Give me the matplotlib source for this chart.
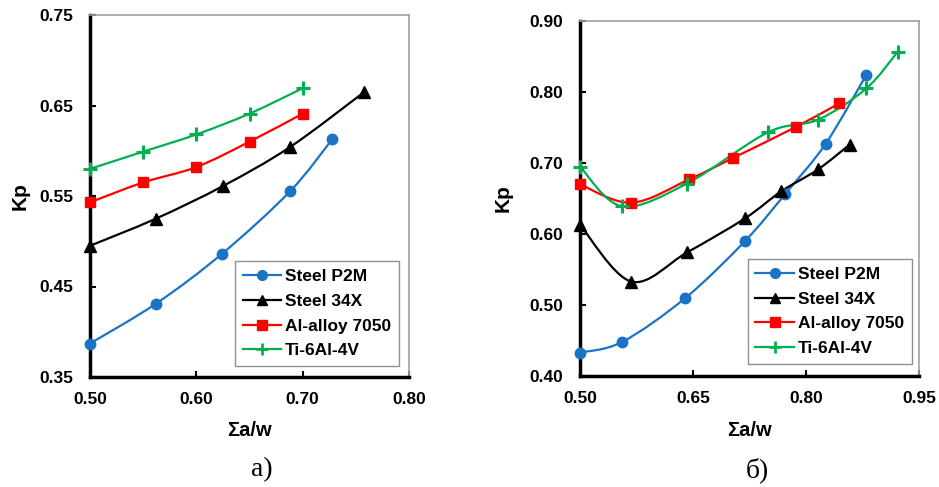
import numpy as np
import matplotlib
matplotlib.use("Agg")
import matplotlib.pyplot as plt
from matplotlib.path import Path
from matplotlib.patches import PathPatch
from matplotlib.lines import Line2D

plt.rcParams['font.family'] = ['Liberation Sans', 'DejaVu Sans']

names = ['Steel P2M', 'Steel 34X', 'Al-alloy 7050', 'Ti-6Al-4V']
colors = ['#1a73c4', '#000000', '#ff0000', '#00b050']
markers = ['o', '^', 's', '+']

# panel a)
a_p2m_x = [0.50, 0.562, 0.624, 0.688, 0.728]
a_p2m_y = [0.387, 0.431, 0.486, 0.555, 0.613]
a_34x_x = [0.50, 0.562, 0.625, 0.688, 0.758]
a_34x_y = [0.495, 0.525, 0.561, 0.604, 0.665]
a_al_x = [0.50, 0.55, 0.60, 0.65, 0.70]
a_al_y = [0.543, 0.565, 0.582, 0.610, 0.641]
a_ti_x = [0.50, 0.55, 0.60, 0.65, 0.70]
a_ti_y = [0.580, 0.599, 0.618, 0.641, 0.669]

# panel б)
b_p2m_x = [0.50, 0.556, 0.640, 0.719, 0.772, 0.826, 0.880]
b_p2m_y = [0.433, 0.448, 0.510, 0.590, 0.656, 0.727, 0.824]
b_34x_x = [0.50, 0.568, 0.642, 0.719, 0.767, 0.816, 0.858]
b_34x_y = [0.613, 0.533, 0.574, 0.622, 0.660, 0.691, 0.726]
b_al_x = [0.50, 0.568, 0.645, 0.703, 0.787, 0.844]
b_al_y = [0.670, 0.644, 0.677, 0.707, 0.751, 0.784]
b_ti_x = [0.50, 0.556, 0.642, 0.749, 0.816, 0.880, 0.922]
b_ti_y = [0.695, 0.639, 0.671, 0.743, 0.761, 0.805, 0.857]


def smooth_path(x, y):
    # Excel-like smoothed line: Catmull-Rom as cubic Bezier segments
    p = np.column_stack([x, y])
    n = len(p)
    verts = [p[0]]
    codes = [Path.MOVETO]
    for i in range(n - 1):
        p0 = p[i - 1] if i > 0 else p[i]
        p1 = p[i]
        p2 = p[i + 1]
        p3 = p[i + 2] if i + 2 < n else p[i + 1]
        c1 = p1 + (p2 - p0) / 6.0
        c2 = p2 - (p3 - p1) / 6.0
        verts += [c1, c2, p2]
        codes += [Path.CURVE4] * 3
    return Path(verts, codes)


def draw_panel(ax, series, xlim, xticks, ylim, yticks, kp_x, sx_y, leg_xy):
    for (x, y), c, m in zip(series, colors, markers):
        ax.add_patch(PathPatch(smooth_path(x, y), fill=False, edgecolor=c, lw=1.6, zorder=2))
        if m == '+':
            ax.plot(x, y, ls='none', marker=m, ms=10, mew=2.2, color=c, zorder=3, clip_on=False)
        elif m == 's':
            ax.plot(x, y, ls='none', marker=m, ms=7.5, color=c, zorder=3, clip_on=False)
        elif m == '^':
            ax.plot(x, y, ls='none', marker=m, ms=8, color=c, zorder=3, clip_on=False)
        else:
            ax.plot(x, y, ls='none', marker=m, ms=7.5, color=c, zorder=3, clip_on=False)
    ax.set_xlim(xlim)
    ax.set_ylim(ylim)
    ax.set_xticks(xticks)
    ax.set_yticks(yticks)
    ax.set_xticklabels(['%.2f' % t for t in xticks])
    ax.set_yticklabels(['%.2f' % t for t in yticks])
    ax.tick_params(direction='in', length=4, width=1.5, labelsize=12.5)
    ax.tick_params(axis='x', pad=11)
    ax.tick_params(axis='y', pad=12)
    for lab in ax.get_xticklabels() + ax.get_yticklabels():
        lab.set_fontweight('bold')
    ax.spines['left'].set_linewidth(2.5)
    ax.spines['bottom'].set_linewidth(2.5)
    ax.spines['top'].set_color('#a0a0a0')
    ax.spines['right'].set_color('#a0a0a0')
    ax.spines['top'].set_linewidth(1.2)
    ax.spines['right'].set_linewidth(1.2)
    ax.set_ylabel('Kp', fontsize=15, fontweight='bold')
    ax.yaxis.set_label_coords(kp_x, 0.5)
    ax.set_xlabel('Σa/w', fontsize=14.5, fontweight='bold')
    ax.xaxis.set_label_coords(0.5, sx_y)
    handles = []
    for name, c, m in zip(names, colors, markers):
        ms = 9 if m == '+' else 7
        handles.append(Line2D([], [], color=c, marker=m, ms=ms, mew=2 if m == '+' else 1, lw=1.6, label=name))
    leg = ax.legend(handles=handles, loc='lower right', bbox_to_anchor=leg_xy, borderaxespad=0,
                    fancybox=False, framealpha=1, edgecolor='#909090',
                    prop={'weight': 'bold', 'size': 12.5}, handlelength=2.2,
                    handletextpad=0.25, labelspacing=0.55, borderpad=0.45)
    leg.get_frame().set_linewidth(1.0)


fig = plt.figure(figsize=(9.39, 4.87), dpi=100)
W, H = 939.0, 487.0
ax1 = fig.add_axes([90 / W, 1 - 377 / H, 319 / W, 362 / H])
ax2 = fig.add_axes([580 / W, 1 - 376 / H, 339 / W, 355 / H])

draw_panel(ax1, [(a_p2m_x, a_p2m_y), (a_34x_x, a_34x_y), (a_al_x, a_al_y), (a_ti_x, a_ti_y)],
           (0.5, 0.8), [0.5, 0.6, 0.7, 0.8], (0.35, 0.75), [0.35, 0.45, 0.55, 0.65, 0.75],
           -0.188, -0.122, (0.969, 0.03))
draw_panel(ax2, [(b_p2m_x, b_p2m_y), (b_34x_x, b_34x_y), (b_al_x, b_al_y), (b_ti_x, b_ti_y)],
           (0.5, 0.95), [0.5, 0.65, 0.8, 0.95], (0.4, 0.9), [0.4, 0.5, 0.6, 0.7, 0.8, 0.9],
           -0.2, -0.127, (0.979, 0.034))

fig.text(262 / W, 1 - 470 / H, 'a)', fontsize=20, family='Liberation Serif', ha='center', va='center')
fig.text(757 / W, 1 - 470 / H, 'б)', fontsize=20, family='Liberation Serif', ha='center', va='center')

fig.savefig('out.png', dpi=100)
